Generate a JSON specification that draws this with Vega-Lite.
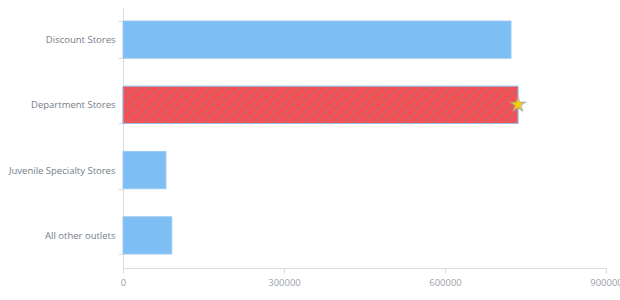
{
  "$schema": "https://vega.github.io/schema/vega-lite/v6.json",
  "width": 483,
  "height": 261,
  "autosize": {"type": "none"},
  "padding": {"left": 123, "top": 7, "right": 14, "bottom": 32},
  "background": "#ffffff",
  "config": {"view": {"stroke": null}},
  "data": {
    "values": [
      {"outlet": "Discount Stores", "sales": 723000, "highlight": "no"},
      {"outlet": "Department Stores", "sales": 736000, "highlight": "yes"},
      {"outlet": "Juvenile Specialty Stores", "sales": 80000, "highlight": "no"},
      {"outlet": "All other outlets", "sales": 91000, "highlight": "no"}
    ]
  },
  "encoding": {
    "y": {
      "field": "outlet",
      "type": "nominal",
      "sort": null,
      "scale": {"paddingInner": 0.43, "paddingOuter": 0.215},
      "axis": {
        "title": null,
        "tickBand": "extent",
        "domainColor": "#d8dcdf",
        "tickColor": "#d8dcdf",
        "tickSize": 5,
        "labelFont": "Open Sans",
        "labelFontSize": 9.5,
        "labelColor": "#737d87",
        "labelPadding": 3
      }
    },
    "x": {
      "field": "sales",
      "type": "quantitative",
      "scale": {"domain": [0, 900000], "nice": false},
      "axis": {
        "title": null,
        "values": [0, 300000, 600000, 900000],
        "format": "d",
        "grid": false,
        "domainColor": "#d8dcdf",
        "tickColor": "#d8dcdf",
        "tickSize": 5,
        "labelFont": "Open Sans",
        "labelFontSize": 9.5,
        "labelColor": "#9ba2a9",
        "labelPadding": 4,
        "labelFlush": false
      }
    }
  },
  "layer": [
    {
      "mark": {"type": "bar", "strokeWidth": 1, "stroke": "#9cc8ef", "fill": "#7dbef5"},
      "encoding": {}
    },
    {
      "transform": [{"filter": "datum.highlight == 'yes'"}],
      "mark": {
        "type": "bar",
        "strokeWidth": 1,
        "stroke": "#9dbbe0",
        "fill": {
          "gradient": "linear",
          "x1": 0, "y1": 0, "x2": 1.1, "y2": 0.103,
          "stops": [
            {"offset": 0, "color": "#f64f52"}, {"offset": 0.014, "color": "#f64f52"}, {"offset": 0.0185, "color": "#bd6b78"},
            {"offset": 0.0228, "color": "#f64f52"}, {"offset": 0.0368, "color": "#f64f52"}, {"offset": 0.0413, "color": "#bd6b78"},
            {"offset": 0.0456, "color": "#f64f52"}, {"offset": 0.0596, "color": "#f64f52"}, {"offset": 0.0641, "color": "#bd6b78"},
            {"offset": 0.0684, "color": "#f64f52"}, {"offset": 0.0824, "color": "#f64f52"}, {"offset": 0.0869, "color": "#bd6b78"},
            {"offset": 0.0912, "color": "#f64f52"}, {"offset": 0.1052, "color": "#f64f52"}, {"offset": 0.1097, "color": "#bd6b78"},
            {"offset": 0.114, "color": "#f64f52"}, {"offset": 0.128, "color": "#f64f52"}, {"offset": 0.1325, "color": "#bd6b78"},
            {"offset": 0.1368, "color": "#f64f52"}, {"offset": 0.1508, "color": "#f64f52"}, {"offset": 0.1553, "color": "#bd6b78"},
            {"offset": 0.1596, "color": "#f64f52"}, {"offset": 0.1736, "color": "#f64f52"}, {"offset": 0.1781, "color": "#bd6b78"},
            {"offset": 0.1824, "color": "#f64f52"}, {"offset": 0.1964, "color": "#f64f52"}, {"offset": 0.2009, "color": "#bd6b78"},
            {"offset": 0.2052, "color": "#f64f52"}, {"offset": 0.2192, "color": "#f64f52"}, {"offset": 0.2237, "color": "#bd6b78"},
            {"offset": 0.228, "color": "#f64f52"}, {"offset": 0.242, "color": "#f64f52"}, {"offset": 0.2465, "color": "#bd6b78"},
            {"offset": 0.2508, "color": "#f64f52"}, {"offset": 0.2648, "color": "#f64f52"}, {"offset": 0.2693, "color": "#bd6b78"},
            {"offset": 0.2736, "color": "#f64f52"}, {"offset": 0.2876, "color": "#f64f52"}, {"offset": 0.2921, "color": "#bd6b78"},
            {"offset": 0.2964, "color": "#f64f52"}, {"offset": 0.3104, "color": "#f64f52"}, {"offset": 0.3149, "color": "#bd6b78"},
            {"offset": 0.3192, "color": "#f64f52"}, {"offset": 0.3332, "color": "#f64f52"}, {"offset": 0.3377, "color": "#bd6b78"},
            {"offset": 0.342, "color": "#f64f52"}, {"offset": 0.356, "color": "#f64f52"}, {"offset": 0.3605, "color": "#bd6b78"},
            {"offset": 0.3648, "color": "#f64f52"}, {"offset": 0.3788, "color": "#f64f52"}, {"offset": 0.3833, "color": "#bd6b78"},
            {"offset": 0.3876, "color": "#f64f52"}, {"offset": 0.4016, "color": "#f64f52"}, {"offset": 0.4061, "color": "#bd6b78"},
            {"offset": 0.4104, "color": "#f64f52"}, {"offset": 0.4244, "color": "#f64f52"}, {"offset": 0.4289, "color": "#bd6b78"},
            {"offset": 0.4332, "color": "#f64f52"}, {"offset": 0.4472, "color": "#f64f52"}, {"offset": 0.4517, "color": "#bd6b78"},
            {"offset": 0.456, "color": "#f64f52"}, {"offset": 0.47, "color": "#f64f52"}, {"offset": 0.4745, "color": "#bd6b78"},
            {"offset": 0.4788, "color": "#f64f52"}, {"offset": 0.4928, "color": "#f64f52"}, {"offset": 0.4973, "color": "#bd6b78"},
            {"offset": 0.5016, "color": "#f64f52"}, {"offset": 0.5156, "color": "#f64f52"}, {"offset": 0.5201, "color": "#bd6b78"},
            {"offset": 0.5244, "color": "#f64f52"}, {"offset": 0.5384, "color": "#f64f52"}, {"offset": 0.5429, "color": "#bd6b78"},
            {"offset": 0.5472, "color": "#f64f52"}, {"offset": 0.5612, "color": "#f64f52"}, {"offset": 0.5657, "color": "#bd6b78"},
            {"offset": 0.57, "color": "#f64f52"}, {"offset": 0.584, "color": "#f64f52"}, {"offset": 0.5885, "color": "#bd6b78"},
            {"offset": 0.5928, "color": "#f64f52"}, {"offset": 0.6068, "color": "#f64f52"}, {"offset": 0.6113, "color": "#bd6b78"},
            {"offset": 0.6156, "color": "#f64f52"}, {"offset": 0.6296, "color": "#f64f52"}, {"offset": 0.6341, "color": "#bd6b78"},
            {"offset": 0.6384, "color": "#f64f52"}, {"offset": 0.6524, "color": "#f64f52"}, {"offset": 0.6569, "color": "#bd6b78"},
            {"offset": 0.6612, "color": "#f64f52"}, {"offset": 0.6752, "color": "#f64f52"}, {"offset": 0.6797, "color": "#bd6b78"},
            {"offset": 0.684, "color": "#f64f52"}, {"offset": 0.698, "color": "#f64f52"}, {"offset": 0.7025, "color": "#bd6b78"},
            {"offset": 0.7068, "color": "#f64f52"}, {"offset": 0.7208, "color": "#f64f52"}, {"offset": 0.7253, "color": "#bd6b78"},
            {"offset": 0.7296, "color": "#f64f52"}, {"offset": 0.7436, "color": "#f64f52"}, {"offset": 0.7481, "color": "#bd6b78"},
            {"offset": 0.7524, "color": "#f64f52"}, {"offset": 0.7664, "color": "#f64f52"}, {"offset": 0.7709, "color": "#bd6b78"},
            {"offset": 0.7752, "color": "#f64f52"}, {"offset": 0.7892, "color": "#f64f52"}, {"offset": 0.7937, "color": "#bd6b78"},
            {"offset": 0.798, "color": "#f64f52"}, {"offset": 0.812, "color": "#f64f52"}, {"offset": 0.8165, "color": "#bd6b78"},
            {"offset": 0.8208, "color": "#f64f52"}, {"offset": 0.8348, "color": "#f64f52"}, {"offset": 0.8393, "color": "#bd6b78"},
            {"offset": 0.8436, "color": "#f64f52"}, {"offset": 0.8576, "color": "#f64f52"}, {"offset": 0.8621, "color": "#bd6b78"},
            {"offset": 0.8664, "color": "#f64f52"}, {"offset": 0.8804, "color": "#f64f52"}, {"offset": 0.8849, "color": "#bd6b78"},
            {"offset": 0.8892, "color": "#f64f52"}, {"offset": 0.9032, "color": "#f64f52"}, {"offset": 0.9077, "color": "#bd6b78"},
            {"offset": 0.912, "color": "#f64f52"}, {"offset": 0.926, "color": "#f64f52"}, {"offset": 0.9305, "color": "#bd6b78"},
            {"offset": 0.9348, "color": "#f64f52"}, {"offset": 0.9488, "color": "#f64f52"}, {"offset": 0.9533, "color": "#bd6b78"},
            {"offset": 0.9576, "color": "#f64f52"}, {"offset": 0.9716, "color": "#f64f52"}, {"offset": 0.9761, "color": "#bd6b78"},
            {"offset": 0.9804, "color": "#f64f52"}, {"offset": 0.9944, "color": "#f64f52"}, {"offset": 1, "color": "#bd6b78"}
          ]
        }
      },
      "encoding": {}
    },
    {
      "transform": [{"filter": "datum.highlight == 'yes'"}],
      "mark": {"type": "text", "text": "★", "fontSize": 20, "color": "#f5cf0a", "stroke": "#a0a0a0", "strokeWidth": 0.6, "baseline": "middle", "align": "center", "font": "DejaVu Sans"},
      "encoding": {}
    }
  ]
}
